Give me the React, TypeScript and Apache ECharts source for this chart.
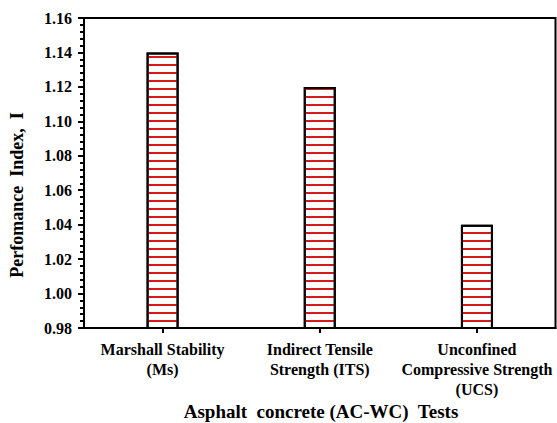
import React, { useEffect, useRef } from "react";
import * as echarts from "echarts";

const categories = [
  "Marshall Stability\n(Ms)",
  "Indirect Tensile\nStrength (ITS)",
  "Unconfined\nCompressive Strength\n(UCS)",
];
const values = [1.14, 1.12, 1.04];
const yMin = 0.98;
const yMax = 1.16;
const yInterval = 0.02;
const xTitle = "Asphalt  concrete (AC-WC)  Tests";
const yTitle = "Perfomance  Index,  I";

const FONT = "'Liberation Serif', 'Times New Roman', serif";

export default function App() {
  const ref = useRef<HTMLDivElement>(null);
  useEffect(() => {
    if (!ref.current) return;
    const chart = echarts.init(ref.current, null, { renderer: "svg" });
    chart.setOption({
      animation: false,
      backgroundColor: "#ffffff",
      grid: {
        left: 84,
        right: 1.5,
        top: 18,
        bottom: 95,
        show: true,
        borderColor: "#000",
        borderWidth: 2,
        containLabel: false,
      },
      xAxis: {
        type: "category",
        data: categories,
        axisLine: { show: true, lineStyle: { color: "#000", width: 2 } },
        axisTick: { show: true, alignWithLabel: true, length: 5, lineStyle: { color: "#000", width: 2 } },
        axisLabel: {
          interval: 0,
          margin: 11,
          color: "#000",
          fontFamily: FONT,
          fontWeight: "bold",
          fontSize: 16,
          lineHeight: 20,
        },
        splitLine: { show: false },
      },
      yAxis: {
        type: "value",
        min: yMin,
        max: yMax,
        interval: yInterval,
        axisLine: { show: true, lineStyle: { color: "#000", width: 2 } },
        axisTick: { show: true, length: 6, lineStyle: { color: "#000", width: 2 } },
        minorTick: { show: true, splitNumber: 5, length: 4, lineStyle: { color: "#000", width: 2 } },
        splitLine: { show: false },
        axisLabel: {
          margin: 12,
          color: "#000",
          fontFamily: FONT,
          fontWeight: "bold",
          fontSize: 16,
          formatter: (v: number) => v.toFixed(2),
        },
      },
      series: [
        {
          type: "bar",
          data: values,
          barWidth: 32,
          itemStyle: {
            color: "#ffffff",
            borderColor: "#000",
            borderWidth: 2,
            decal: {
              symbol: "rect",
              symbolSize: 1,
              dashArrayX: [1, 0],
              dashArrayY: [2, 5.4],
              rotation: 0,
              color: "#d41a1a",
            },
          },
        },
      ],
      graphic: [
        {
          type: "text",
          x: 17,
          y: 195,
          rotation: Math.PI / 2,
          style: {
            text: yTitle,
            fill: "#000",
            font: `bold 18px ${FONT}`,
            textAlign: "center",
            textVerticalAlign: "middle",
          },
        },
        {
          type: "text",
          x: 321,
          y: 411,
          style: {
            text: xTitle,
            fill: "#000",
            font: `bold 19px ${FONT}`,
            textAlign: "center",
            textVerticalAlign: "middle",
          },
        },
      ],
    });
    return () => chart.dispose();
  }, []);
  return (
    <div
      ref={ref}
      style={{ position: "fixed", left: 0, top: 0, width: 557, height: 423 }}
    />
  );
}
